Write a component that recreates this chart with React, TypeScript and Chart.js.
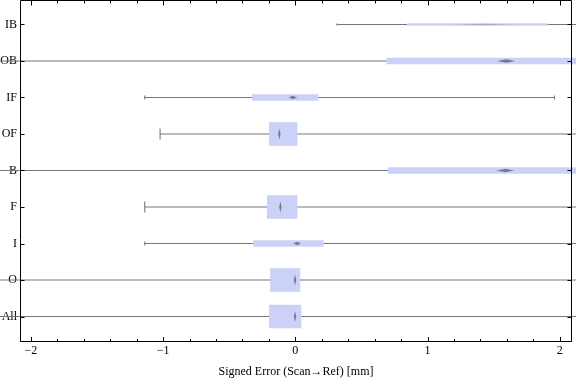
import React, { useEffect, useRef } from 'react';
import { Chart, registerables } from 'chart.js';
Chart.register(...registerables);

// Categories listed top to bottom
const categories = ['IB', 'OB', 'IF', 'OF', 'B', 'F', 'I', 'O', 'All'];
const whiskerLow = [0.315, -2.6, -1.139, -1.023, -2.6, -1.139, -1.139, -2.6, -2.6];
const quartile1 = [0.847, 0.693, -0.327, -0.197, 0.703, -0.212, -0.317, -0.189, -0.197];
const medians = [1.42, 1.595, -0.02, -0.121, 1.59, -0.113, 0.013, -0.002, -0.002];
const quartile3 = [1.905, 2.6, 0.171, 0.013, 2.6, 0.013, 0.212, 0.035, 0.043];
const whiskerHigh = [2.6, 2.6, 1.96, 2.6, 2.6, 2.6, 2.6, 2.6, 2.6];
const medianCILow = [1.19, 1.527, -0.05, -0.128, 1.52, -0.12, -0.017, -0.01, -0.01];
const medianCIHigh = [1.65, 1.663, 0.013, -0.113, 1.655, -0.105, 0.043, 0.005, 0.005];
const boxWidthClass = ['thin', 'narrow', 'narrow', 'wide', 'narrow', 'wide', 'narrow', 'wide', 'wide'];
const xTickValues = [-2, -1, 0, 1, 2];
const xAxisTitle = 'Signed Error (Scan\u2192Ref) [mm]';

const THICK: Record<string, number> = { thin: 2, narrow: 6, wide: 23 };
const CAP: Record<string, number> = { thin: 1, narrow: 2, wide: 5.5 };
const DIAM: Record<string, number> = { thin: 0.8, narrow: 1.8, wide: 5.5 };
const DIAM_ALPHA: Record<string, number> = { thin: 0.35, narrow: 0.8, wide: 0.8 };
const FONT = 'Liberation Serif';
const BOX_COLOR = 'rgb(204,210,247)';
const WHISKER_COLOR = 'rgb(118,118,118)';

const yOf = (i: number) => categories.length - i;

export default function App() {
  const ref = useRef<HTMLCanvasElement>(null);
  useEffect(() => {
    document.body.style.margin = '0';
    const canvas = ref.current!;
    const whiskerSets: any[] = categories.map((c, i) => ({
      type: 'line',
      label: c + ' whisker',
      data: [
        { x: whiskerLow[i], y: yOf(i) },
        { x: whiskerHigh[i], y: yOf(i) },
      ],
      borderColor: WHISKER_COLOR,
      borderWidth: 1.1,
      pointStyle: 'line',
      pointRotation: 90,
      pointRadius: CAP[boxWidthClass[i]],
      pointHoverRadius: 0,
      pointBorderColor: WHISKER_COLOR,
      pointBorderWidth: 1.1,
      fill: false,
      clip: false,
      order: 3,
    }));
    const boxSets: any[] = ['wide', 'narrow', 'thin'].map((cls) => ({
      type: 'bar',
      label: cls,
      data: categories
        .map((c, i) => ({ i }))
        .filter(({ i }) => boxWidthClass[i] === cls)
        .map(({ i }) => ({ y: yOf(i), x: [quartile1[i], quartile3[i]] })),
      backgroundColor: BOX_COLOR,
      borderWidth: 0,
      barThickness: THICK[cls],
      grouped: false,
      clip: false,
      order: 2,
    }));

    const medianPlugin = {
      id: 'medianDiamonds',
      afterDatasetsDraw(chart: any) {
        const { ctx, scales } = chart;
        const xs = scales.x, ys = scales.y;
        ctx.save();
        categories.forEach((c, i) => {
          const cy = ys.getPixelForValue(yOf(i));
          const cx = xs.getPixelForValue(medians[i]);
          let lo = xs.getPixelForValue(medianCILow[i]);
          let hi = xs.getPixelForValue(medianCIHigh[i]);
          lo = Math.min(lo, cx - 1.2);
          hi = Math.max(hi, cx + 1.2);
          const cls = boxWidthClass[i];
          const h = DIAM[cls];
          ctx.beginPath();
          ctx.moveTo(lo, cy);
          ctx.lineTo(cx, cy - h);
          ctx.lineTo(hi, cy);
          ctx.lineTo(cx, cy + h);
          ctx.closePath();
          ctx.fillStyle = `rgba(100,100,100,${DIAM_ALPHA[cls]})`;
          ctx.fill();
        });
        ctx.restore();
      },
    };

    const framePlugin = {
      id: 'frame',
      afterDraw(chart: any) {
        const { ctx, chartArea, scales } = chart;
        const xs = scales.x, ys = scales.y;
        const L = Math.round(chartArea.left) - 0.5;
        const R = Math.round(chartArea.right) + 0.5;
        const T = Math.round(chartArea.top) + 0.5;
        const B = Math.round(chartArea.bottom) + 0.5;
        ctx.save();
        ctx.strokeStyle = '#000';
        ctx.lineWidth = 1;
        ctx.beginPath();
        ctx.moveTo(L, T); ctx.lineTo(R, T); ctx.lineTo(R, B); ctx.lineTo(L, B); ctx.closePath();
        for (let k = -10; k <= 10; k++) {
          const v = k / 5;
          const px = Math.round(xs.getPixelForValue(v)) + 0.5;
          if (px < L || px > R) continue;
          const major = k % 5 === 0;
          ctx.moveTo(px, B); ctx.lineTo(px, B - (major ? 4.5 : 2.5));
          ctx.moveTo(px, T); ctx.lineTo(px, T + (major ? 5 : 3));
        }
        categories.forEach((c, i) => {
          const py = Math.round(ys.getPixelForValue(yOf(i))) + 0.5;
          ctx.moveTo(L, py); ctx.lineTo(L + 4, py);
          ctx.moveTo(R, py); ctx.lineTo(R - 4, py);
        });
        ctx.stroke();
        ctx.restore();
      },
    };

    const chart = new Chart(canvas, {
      type: 'bar',
      data: { datasets: [...boxSets, ...whiskerSets] },
      options: {
        animation: false,
        responsive: false,
        indexAxis: 'y',
        layout: { autoPadding: false, padding: { left: 0, right: 5, top: 0, bottom: 0 } },
        plugins: { legend: { display: false }, tooltip: { enabled: false } },
        scales: {
          x: {
            type: 'linear',
            min: -2.075,
            max: 2.085,
            offset: false,
            afterBuildTicks: (s: any) => {
              s.ticks = xTickValues.map((v) => ({ value: v }));
            },
            ticks: {
              callback: (v: any) => (v < 0 ? '\u2212' + Math.abs(v) : String(v)),
              font: { family: FONT, size: 12 },
              color: '#000',
              padding: 3,
              maxRotation: 0,
              autoSkip: false,
            },
            grid: { display: false, drawTicks: false, offset: false },
            border: { display: false },
            title: {
              display: true,
              text: xAxisTitle,
              font: { family: FONT, size: 12 },
              color: '#000',
              padding: { top: 0, bottom: 2 },
            },
            afterFit: (s: any) => {
              s.height = 40;
              s.paddingLeft = 0;
              s.paddingRight = 0;
            },
          },
          y: {
            type: 'linear',
            min: 0.329,
            max: 9.671,
            offset: false,
            z: 1,
            afterBuildTicks: (s: any) => {
              s.ticks = categories.map((c, i) => ({ value: yOf(i) }));
            },
            ticks: {
              callback: (v: any) => categories[categories.length - v],
              font: { family: FONT, size: 12 },
              color: '#000',
              padding: 0,
              autoSkip: false,
            },
            grid: { display: true, drawOnChartArea: false, drawTicks: true, tickLength: 4, color: 'rgba(0,0,0,0)', offset: false },
            border: { display: false },
            afterFit: (s: any) => {
              s.width = 21;
              s.paddingTop = 0;
              s.paddingBottom = 0;
            },
          },
        },
      } as any,
      plugins: [medianPlugin, framePlugin],
    });
    return () => chart.destroy();
  }, []);
  return <canvas ref={ref} width={576} height={381} style={{ display: 'block' }} />;
}
